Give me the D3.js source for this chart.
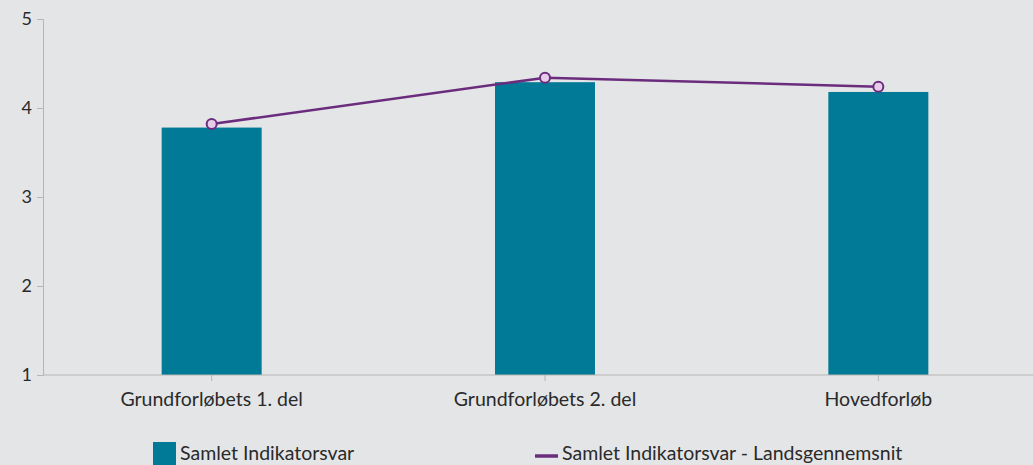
<!DOCTYPE html>
<meta charset="utf-8">
<script src="https://d3js.org/d3.v7.min.js"></script>
<style>
  body { margin: 0; background: #e4e5e6; }
  text { font-family: Lato, "Open Sans", sans-serif; fill: #2a2a2a; }
</style>
<div id="chart"></div>
<script>
  // data
  const categories = ["Grundforløbets 1. del", "Grundforløbets 2. del", "Hovedforløb"];
  const barValues = [3.78, 4.29, 4.18];
  const avgValues = [3.82, 4.34, 4.24];
  const yTicks = [1, 2, 3, 4, 5];
  const barName = "Samlet Indikatorsvar";
  const lineName = "Samlet Indikatorsvar - Landsgennemsnit";

  const W = 1033, H = 465;
  const margin = {top: 19, right: -12, bottom: 90, left: 43};

  const svg = d3.select("#chart").append("svg")
    .attr("width", W).attr("height", H);

  svg.append("rect").attr("width", W).attr("height", H).attr("fill", "#e4e5e6");

  const x = d3.scaleBand()
    .domain(categories)
    .range([margin.left + 2, W - margin.right])
    .paddingInner(0.7)
    .paddingOuter(0.35);

  const y = d3.scaleLinear()
    .domain([1, 5])
    .range([H - margin.bottom, margin.top]);

  // y axis
  const yAxis = svg.append("g")
    .attr("transform", `translate(${margin.left},0)`)
    .call(d3.axisLeft(y).tickValues(yTicks).tickSize(6).tickPadding(5).tickFormat(d3.format("d")));
  yAxis.select(".domain").attr("stroke", "#b5b5b5");
  yAxis.selectAll(".tick line").attr("stroke", "#b5b5b5");
  yAxis.selectAll("text").style("font-size", "18px").attr("fill", "#2a2a2a");

  // bars
  svg.append("g").selectAll("rect")
    .data(barValues)
    .join("rect")
    .attr("x", (d, i) => x(categories[i]))
    .attr("width", x.bandwidth())
    .attr("y", d => y(d))
    .attr("height", d => y(1) - y(d))
    .attr("fill", "#007a96");

  // x axis
  svg.append("line")
    .attr("x1", margin.left).attr("x2", W)
    .attr("y1", y(1)).attr("y2", y(1))
    .attr("stroke", "#b5b5b5");
  const xa = svg.append("g")
    .attr("transform", `translate(0,${y(1)})`)
    .call(d3.axisBottom(x).tickSize(6).tickSizeOuter(0).tickPadding(11));
  xa.select(".domain").remove();
  xa.selectAll(".tick line").attr("stroke", "#b5b5b5");
  xa.selectAll("text").style("font-size", "19.5px").attr("fill", "#2a2a2a");

  // average line
  const line = d3.line()
    .x((d, i) => x(categories[i]) + x.bandwidth() / 2)
    .y(d => y(d));

  svg.append("path")
    .datum(avgValues)
    .attr("d", line)
    .attr("fill", "none")
    .attr("stroke", "#6b2c7e")
    .attr("stroke-width", 2.5);

  svg.append("g").selectAll("circle")
    .data(avgValues)
    .join("circle")
    .attr("cx", (d, i) => x(categories[i]) + x.bandwidth() / 2)
    .attr("cy", d => y(d))
    .attr("r", 5)
    .attr("fill", "#e6cce8")
    .attr("stroke", "#6b2c7e")
    .attr("stroke-width", 2);

  // legend
  const leg = svg.append("g");
  leg.append("rect").attr("x", 153).attr("y", 442).attr("width", 23).attr("height", 26).attr("fill", "#007a96");
  leg.append("text").attr("x", 180).attr("y", 460).style("font-size", "19.5px").text(barName);
  leg.append("line").attr("x1", 535).attr("x2", 558).attr("y1", 456).attr("y2", 456)
    .attr("stroke", "#6b2c7e").attr("stroke-width", 3.5);
  leg.append("text").attr("x", 562).attr("y", 460).style("font-size", "19.5px").text(lineName);
</script>
